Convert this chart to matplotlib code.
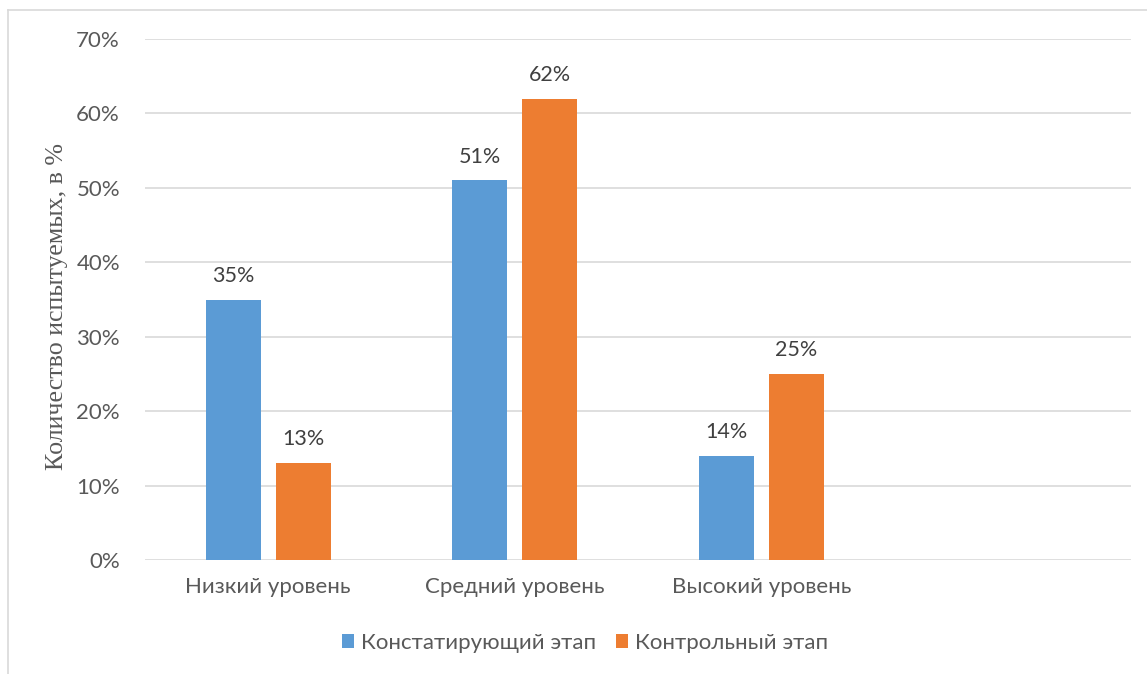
import matplotlib
matplotlib.use("Agg")
import matplotlib.pyplot as plt
import numpy as np

# данные диаграммы
categories = ["Низкий уровень", "Средний уровень", "Высокий уровень", ""]
stage_1 = [0.35, 0.51, 0.14, None]   # констатирующий этап
stage_2 = [0.13, 0.62, 0.25, None]   # контрольный этап
series_names = ["Констатирующий этап", "Контрольный этап"]
y_ticks = [0.0, 0.1, 0.2, 0.3, 0.4, 0.5, 0.6, 0.7]

BLUE = "#5b9bd5"
ORANGE = "#ed7d31"
TEXT = "#595959"
GRID = "#d9d9d9"

plt.rcParams['font.family'] = ['Lato', 'DejaVu Sans']

fig = plt.figure(figsize=(11.47, 6.74), dpi=100)
ax = fig.add_axes([0.1264, 0.1691, 0.986 - 0.1264, 0.9421 - 0.1691])

x = np.arange(len(categories))
w = 0.223
off = 0.142
for vals, dx, col, name in [(stage_1, -off, BLUE, series_names[0]),
                            (stage_2, off, ORANGE, series_names[1])]:
    xs = [xi + dx for xi, v in zip(x, vals) if v is not None]
    vs = [v for v in vals if v is not None]
    bars = ax.bar(xs, vs, width=w, color=col, label=name, zorder=3)
    for b, v in zip(bars, vs):
        ax.annotate(f"{round(v * 100)}%", (b.get_x() + b.get_width() / 2, v),
                    xytext=(0, 10), textcoords="offset points",
                    ha="center", va="bottom", fontsize=15.5, color="#404040")

ax.set_xlim(-0.5, len(categories) - 0.5)
ax.set_ylim(0, 0.7)
ax.set_yticks(y_ticks)
ax.set_yticklabels([f"{round(t * 100)}%" for t in y_ticks])
ax.set_xticks(x)
ax.set_xticklabels(categories)
ax.tick_params(length=0, labelsize=16, colors=TEXT)
ax.tick_params(axis='y', pad=18)
ax.tick_params(axis='x', pad=12)
ax.yaxis.grid(True, color=GRID, linewidth=1.2, zorder=0)
for s in ax.spines.values():
    s.set_visible(False)

fig.text(0.05, 0.545, "Количество испытуемых, в %", rotation=90,
         ha="center", va="center", fontsize=18.7, color=TEXT,
         family=['Liberation Serif'])

fig.legend(loc="center", bbox_to_anchor=(0.51, 0.046), ncol=2, frameon=False,
           fontsize=16, labelcolor=TEXT, handlelength=0.55, handleheight=0.55,
           handletextpad=0.3, columnspacing=0.9)

# рамка вокруг диаграммы
fig.add_artist(plt.Line2D([0.007, 0.007], [0.0, 0.985], color=GRID, linewidth=1.2))
fig.add_artist(plt.Line2D([0.007, 1.0], [0.985, 0.985], color=GRID, linewidth=1.2))

fig.savefig("out.png", dpi=100)
